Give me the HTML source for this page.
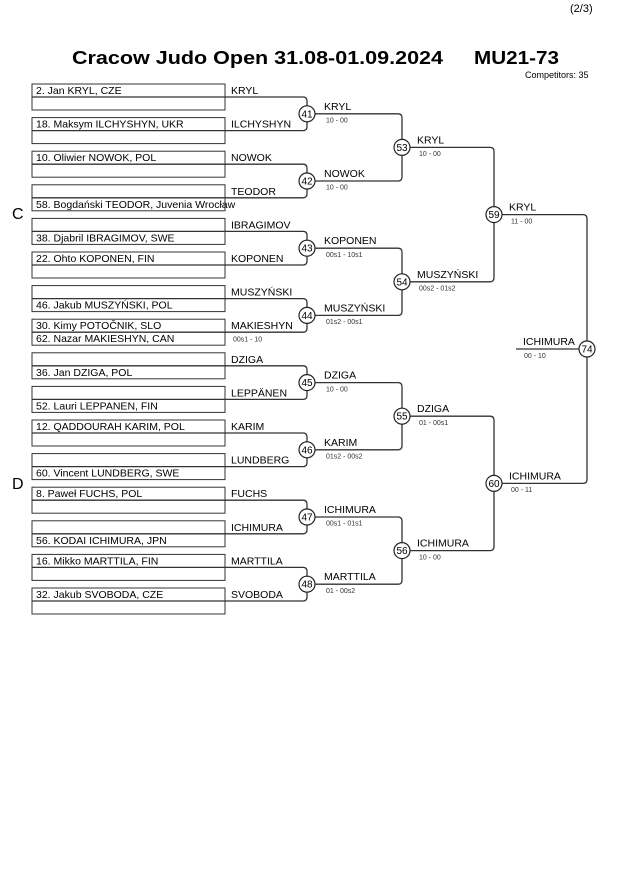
<!DOCTYPE html>
<html><head><meta charset="utf-8"><style>
html,body{margin:0;padding:0;background:#fff;}
svg{display:block;font-family:"Liberation Sans",Arial,sans-serif;}
.e{font-size:10.5px;fill:#000}
.l{font-size:10.5px;fill:#000}
.s{font-size:7px;fill:#333}
.c{font-size:10px;fill:#000;text-anchor:middle}
.ln{fill:none;stroke:#333;stroke-width:1.3}
.bx{fill:none;stroke:#333;stroke-width:1}
</style></head><body>
<svg width="630" height="891" viewBox="0 0 630 891">
<text x="570" y="12" font-size="11">(2/3)</text>
<text x="72" y="64" font-size="18" font-weight="bold" textLength="371" lengthAdjust="spacingAndGlyphs">Cracow Judo Open  31.08-01.09.2024</text>
<text x="474" y="64" font-size="18" font-weight="bold" textLength="85" lengthAdjust="spacingAndGlyphs">MU21-73</text>
<text x="525" y="78" font-size="9">Competitors: 35</text>
<text x="12" y="219" font-size="16">C</text>
<text x="12" y="489" font-size="16">D</text>

<g class="bx">
<rect x="32" y="84" width="193" height="26"/>
<rect x="32" y="117.6" width="193" height="26"/>
<rect x="32" y="151.2" width="193" height="26"/>
<rect x="32" y="184.8" width="193" height="26"/>
<rect x="32" y="218.4" width="193" height="26"/>
<rect x="32" y="252" width="193" height="26"/>
<rect x="32" y="285.6" width="193" height="26"/>
<rect x="32" y="319.2" width="193" height="26"/>
<rect x="32" y="352.8" width="193" height="26"/>
<rect x="32" y="386.4" width="193" height="26"/>
<rect x="32" y="420" width="193" height="26"/>
<rect x="32" y="453.6" width="193" height="26"/>
<rect x="32" y="487.2" width="193" height="26"/>
<rect x="32" y="520.8" width="193" height="26"/>
<rect x="32" y="554.4" width="193" height="26"/>
<rect x="32" y="588" width="193" height="26"/>
</g>

<g class="ln">
<path d="M32,97 H303 Q307,97 307,101 V126.6 Q307,130.6 303,130.6 H32"/>
<path d="M32,164.2 H303 Q307,164.2 307,168.2 V193.8 Q307,197.8 303,197.8 H32"/>
<path d="M32,231.4 H303 Q307,231.4 307,235.4 V261 Q307,265 303,265 H32"/>
<path d="M32,298.6 H303 Q307,298.6 307,302.6 V328.2 Q307,332.2 303,332.2 H32"/>
<path d="M32,365.8 H303 Q307,365.8 307,369.8 V395.4 Q307,399.4 303,399.4 H32"/>
<path d="M32,433 H303 Q307,433 307,437 V462.6 Q307,466.6 303,466.6 H32"/>
<path d="M32,500.2 H303 Q307,500.2 307,504.2 V529.8 Q307,533.8 303,533.8 H32"/>
<path d="M32,567.4 H303 Q307,567.4 307,571.4 V597 Q307,601 303,601 H32"/>

<path d="M307,113.8 H398 Q402,113.8 402,117.8 V177 Q402,181 398,181 H307"/>
<path d="M307,248.2 H398 Q402,248.2 402,252.2 V311.4 Q402,315.4 398,315.4 H307"/>
<path d="M307,382.6 H398 Q402,382.6 402,386.6 V445.8 Q402,449.8 398,449.8 H307"/>
<path d="M307,517 H398 Q402,517 402,521 V580.2 Q402,584.2 398,584.2 H307"/>

<path d="M402,147.4 H490 Q494,147.4 494,151.4 V277.8 Q494,281.8 490,281.8 H402"/>
<path d="M402,416.2 H490 Q494,416.2 494,420.2 V546.6 Q494,550.6 490,550.6 H402"/>

<path d="M494,214.6 H583 Q587,214.6 587,218.6 V479.4 Q587,483.4 583,483.4 H494"/>
<path d="M516,349 H587"/>
</g>

<g class="e">
<text x="36" y="94">2. Jan KRYL, CZE</text>
<text x="36" y="127.6">18. Maksym ILCHYSHYN, UKR</text>
<text x="36" y="161.2">10. Oliwier NOWOK, POL</text>
<text x="36" y="207.8">58. Bogdański TEODOR, Juvenia Wrocław</text>
<text x="36" y="241.4">38. Djabril IBRAGIMOV, SWE</text>
<text x="36" y="262">22. Ohto KOPONEN, FIN</text>
<text x="36" y="308.6">46. Jakub MUSZYŃSKI, POL</text>
<text x="36" y="329.2">30. Kimy POTOČNIK, SLO</text>
<text x="36" y="342.2">62. Nazar MAKIESHYN, CAN</text>
<text x="36" y="375.8">36. Jan DZIGA, POL</text>
<text x="36" y="409.4">52. Lauri LEPPANEN, FIN</text>
<text x="36" y="430">12. QADDOURAH KARIM, POL</text>
<text x="36" y="476.6">60. Vincent LUNDBERG, SWE</text>
<text x="36" y="497.2">8. Paweł FUCHS, POL</text>
<text x="36" y="543.8">56. KODAI ICHIMURA, JPN</text>
<text x="36" y="564.4">16. Mikko MARTTILA, FIN</text>
<text x="36" y="598">32. Jakub SVOBODA, CZE</text>
</g>
<g class="l">
<text x="231" y="94">KRYL</text>
<text x="231" y="127.6">ILCHYSHYN</text>
<text x="231" y="161.2">NOWOK</text>
<text x="231" y="194.8">TEODOR</text>
<text x="231" y="228.4">IBRAGIMOV</text>
<text x="231" y="262">KOPONEN</text>
<text x="231" y="295.6">MUSZYŃSKI</text>
<text x="231" y="329.2">MAKIESHYN</text>
<text x="231" y="362.8">DZIGA</text>
<text x="231" y="396.4">LEPPÄNEN</text>
<text x="231" y="430">KARIM</text>
<text x="231" y="463.6">LUNDBERG</text>
<text x="231" y="497.2">FUCHS</text>
<text x="231" y="530.8">ICHIMURA</text>
<text x="231" y="564.4">MARTTILA</text>
<text x="231" y="598">SVOBODA</text>
<text x="324" y="109.8">KRYL</text>
<text x="324" y="177">NOWOK</text>
<text x="324" y="244.2">KOPONEN</text>
<text x="324" y="311.4">MUSZYŃSKI</text>
<text x="324" y="378.6">DZIGA</text>
<text x="324" y="445.8">KARIM</text>
<text x="324" y="513">ICHIMURA</text>
<text x="324" y="580.2">MARTTILA</text>
<text x="417" y="143.4">KRYL</text>
<text x="417" y="277.8">MUSZYŃSKI</text>
<text x="417" y="412.2">DZIGA</text>
<text x="417" y="546.6">ICHIMURA</text>
<text x="509" y="210.6">KRYL</text>
<text x="509" y="479.4">ICHIMURA</text>
<text x="523" y="345">ICHIMURA</text>
</g>
<g class="s">
<text x="233" y="341.5">00s1 - 10</text>
<text x="326" y="122.5">10 - 00</text>
<text x="326" y="189.7">10 - 00</text>
<text x="326" y="256.9">00s1 - 10s1</text>
<text x="326" y="324.1">01s2 - 00s1</text>
<text x="326" y="391.3">10 - 00</text>
<text x="326" y="458.5">01s2 - 00s2</text>
<text x="326" y="525.7">00s1 - 01s1</text>
<text x="326" y="592.9">01 - 00s2</text>
<text x="419" y="156.1">10 - 00</text>
<text x="419" y="290.5">00s2 - 01s2</text>
<text x="419" y="424.9">01 - 00s1</text>
<text x="419" y="559.3">10 - 00</text>
<text x="511" y="223.3">11 - 00</text>
<text x="511" y="492.1">00 - 11</text>
<text x="524" y="358">00 - 10</text>
</g>

<g fill="#fff" stroke="#222" stroke-width="1.2">
<circle cx="307" cy="113.8" r="8"/><circle cx="307" cy="181" r="8"/>
<circle cx="307" cy="248.2" r="8"/><circle cx="307" cy="315.4" r="8"/>
<circle cx="307" cy="382.6" r="8"/><circle cx="307" cy="449.8" r="8"/>
<circle cx="307" cy="517" r="8"/><circle cx="307" cy="584.2" r="8"/>
<circle cx="402" cy="147.4" r="8"/><circle cx="402" cy="281.8" r="8"/>
<circle cx="402" cy="416.2" r="8"/><circle cx="402" cy="550.6" r="8"/>
<circle cx="494" cy="214.6" r="8"/><circle cx="494" cy="483.4" r="8"/>
<circle cx="587" cy="349" r="8"/>
</g>
<g class="c">
<text x="307" y="117.3">41</text><text x="307" y="184.5">42</text>
<text x="307" y="251.7">43</text><text x="307" y="318.9">44</text>
<text x="307" y="386.1">45</text><text x="307" y="453.3">46</text>
<text x="307" y="520.5">47</text><text x="307" y="587.7">48</text>
<text x="402" y="150.9">53</text><text x="402" y="285.3">54</text>
<text x="402" y="419.7">55</text><text x="402" y="554.1">56</text>
<text x="494" y="218.1">59</text><text x="494" y="486.9">60</text>
<text x="587" y="352.5">74</text>
</g>
</svg>
</body></html>
